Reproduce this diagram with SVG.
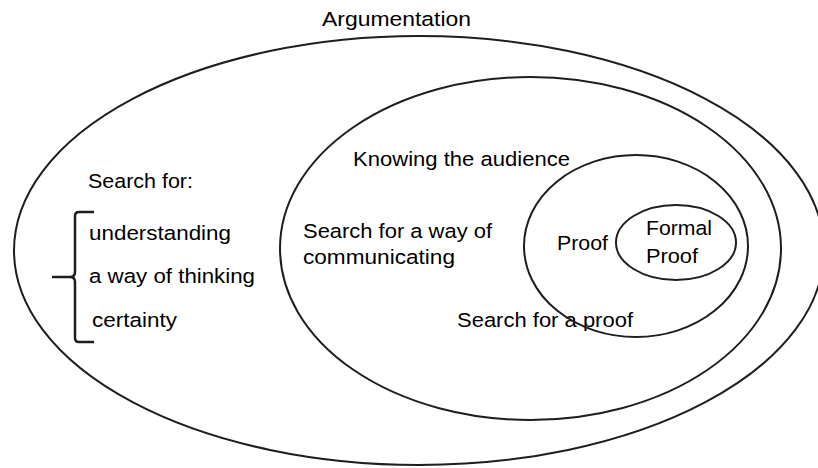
<svg xmlns="http://www.w3.org/2000/svg" width="818" height="468" viewBox="0 0 818 468">
<style>
.ring{fill:none;stroke:#1e1e1e;stroke-width:2}
.t{font-family:"Liberation Sans",Arial,sans-serif;font-size:20.5px;fill:#000}
.br{fill:none;stroke:#1e1e1e;stroke-width:2.5;stroke-linejoin:round}
</style>
<rect width="818" height="468" fill="#fff"/>
<g id="argumentation">
<ellipse class="ring" cx="419" cy="250.5" rx="405" ry="214.5"/>
<text class="t" x="322" y="26" textLength="149" lengthAdjust="spacingAndGlyphs">Argumentation</text>
<text class="t" x="88" y="188" textLength="105" lengthAdjust="spacingAndGlyphs">Search for:</text>
<text class="t" x="89" y="240" textLength="142" lengthAdjust="spacingAndGlyphs">understanding</text>
<text class="t" x="89" y="283" textLength="166" lengthAdjust="spacingAndGlyphs">a way of thinking</text>
<text class="t" x="92" y="327" textLength="85" lengthAdjust="spacingAndGlyphs">certainty</text>
</g>
<g id="bracket">
<path class="br" d="M94 212 H79 Q75 212 75 216 V272 Q75 277 70 277 H52 M70 277 Q75 277 75 282 V338 Q75 342 79 342 H94"/>
</g>
<g id="communication">
<ellipse class="ring" cx="530.5" cy="248.5" rx="250.5" ry="171.5"/>
<text class="t" x="353" y="166" textLength="217" lengthAdjust="spacingAndGlyphs">Knowing the audience</text>
<text class="t" x="303" y="238" textLength="189" lengthAdjust="spacingAndGlyphs">Search for a way of</text>
<text class="t" x="303" y="264" textLength="152" lengthAdjust="spacingAndGlyphs">communicating</text>
<text class="t" x="457" y="327" textLength="176" lengthAdjust="spacingAndGlyphs">Search for a proof</text>
</g>
<g id="proof">
<ellipse class="ring" cx="636" cy="246" rx="112" ry="91"/>
<text class="t" x="557" y="250" textLength="51" lengthAdjust="spacingAndGlyphs">Proof</text>
</g>
<g id="formal-proof">
<ellipse class="ring" cx="676" cy="242.5" rx="60" ry="37.5"/>
<text class="t" x="646" y="235" textLength="66" lengthAdjust="spacingAndGlyphs">Formal</text>
<text class="t" x="646" y="263" textLength="52" lengthAdjust="spacingAndGlyphs">Proof</text>
</g>
<g id="connectors"></g>
</svg>
